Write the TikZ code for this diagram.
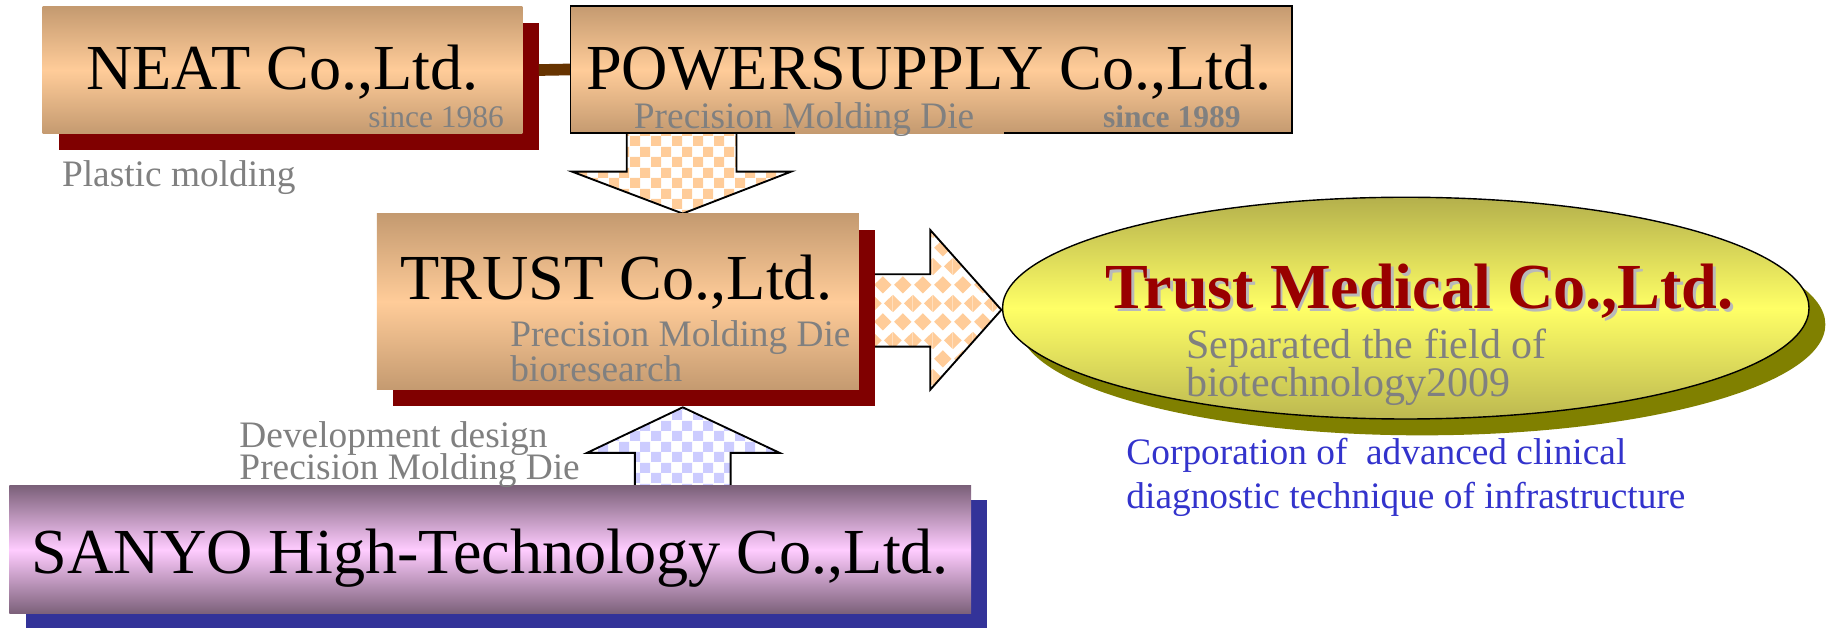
\documentclass[tikz,border=0pt]{standalone}
\usepackage{fontspec}
\setmainfont{Liberation Serif}
\usetikzlibrary{shapes.geometric,shadows,patterns}

\definecolor{tandark}{HTML}{C49A70}
\definecolor{peach}{HTML}{FFCC99}
\definecolor{maroon}{HTML}{800000}
\definecolor{brownline}{HTML}{663300}
\definecolor{plum}{HTML}{7B6079}
\definecolor{pinkish}{HTML}{FFCCFF}
\definecolor{navy}{HTML}{333399}
\definecolor{oliveshadow}{HTML}{808000}
\definecolor{oliveyellow}{HTML}{B4B04C}
\definecolor{lightyellow}{HTML}{FFFF66}
\definecolor{lowyellow}{HTML}{BCB850}
\definecolor{redtext}{HTML}{990000}
\definecolor{bluetext}{HTML}{3333CC}
\definecolor{graytext}{HTML}{808080}
\definecolor{bluecheck}{HTML}{CCCCFF}

% checker and diamond fills of the block arrows
\pgfdeclarepatternformonly{checks}{\pgfpointorigin}{\pgfqpoint{18pt}{18pt}}{\pgfqpoint{18pt}{18pt}}{%
  \pgfpathrectangle{\pgfpointorigin}{\pgfqpoint{9pt}{9pt}}%
  \pgfpathrectangle{\pgfqpoint{9pt}{9pt}}{\pgfqpoint{9pt}{9pt}}%
  \pgfusepath{fill}}
\pgfdeclarepatternformonly{diamonds}{\pgfpointorigin}{\pgfqpoint{17pt}{32pt}}{\pgfqpoint{17pt}{32pt}}{%
  \pgfpathmoveto{\pgfqpoint{8.5pt}{0.5pt}}%
  \pgfpathlineto{\pgfqpoint{16pt}{8pt}}%
  \pgfpathlineto{\pgfqpoint{8.5pt}{15.5pt}}%
  \pgfpathlineto{\pgfqpoint{1pt}{8pt}}%
  \pgfpathclose
  \pgfpathmoveto{\pgfqpoint{0pt}{16.5pt}}%
  \pgfpathlineto{\pgfqpoint{7.5pt}{24pt}}%
  \pgfpathlineto{\pgfqpoint{0pt}{31.5pt}}%
  \pgfpathclose
  \pgfpathmoveto{\pgfqpoint{17pt}{16.5pt}}%
  \pgfpathlineto{\pgfqpoint{9.5pt}{24pt}}%
  \pgfpathlineto{\pgfqpoint{17pt}{31.5pt}}%
  \pgfpathclose
  \pgfusepath{fill}}

\begin{document}
\begin{tikzpicture}[x=1pt, y=-1pt]

\tikzstyle{tanbox} = [rectangle, inner sep=0pt, top color=tandark, bottom color=tandark, middle color=peach]
\tikzstyle{redshadow} = [drop shadow={fill=maroon, opacity=1, shadow xshift=14pt, shadow yshift=-14pt}]
\tikzstyle{title} = [inner sep=0pt, font=\fontsize{55}{60}\selectfont]
\tikzstyle{note} = [inner sep=0pt, text=graytext, font=\fontsize{32}{36}\selectfont]
\tikzstyle{small} = [inner sep=0pt, text=graytext, font=\fontsize{27}{30}\selectfont]
\tikzstyle{blockarrow} = [draw=black, line width=1.6pt, line join=miter]

\useasboundingbox (0,0) rectangle (1568,539);

% block arrows (drawn first, the boxes hide their ends)
\draw[blockarrow, pattern=checks, pattern color=peach]
  (537,108) -- (537,147) -- (490,147) -- (585,183) -- (678,147) -- (631,147) -- (631,108) -- cycle;
\draw[blockarrow, pattern=diamonds, pattern color=peach]
  (744,235) -- (797,235) -- (797,197) -- (858,265.5) -- (797,334) -- (797,297) -- (744,297) -- cycle;
\draw[blockarrow, pattern=checks, pattern color=bluecheck]
  (544,422) -- (544,388) -- (503,388) -- (585,349) -- (668,388) -- (626,388) -- (626,422) -- cycle;

% boxes
\node[tanbox, redshadow, minimum width=411, minimum height=109] (neat) at (242,60) {};
\node[tanbox, minimum width=618, minimum height=109] (power) at (798,59.5) {};
\node[tanbox, redshadow, minimum width=413, minimum height=151] (trust) at (529.5,258.5) {};
\node[rectangle, inner sep=0pt, top color=plum, bottom color=plum, middle color=pinkish,
  drop shadow={fill=navy, opacity=1, shadow xshift=14pt, shadow yshift=-12pt},
  minimum width=824, minimum height=110] (sanyo) at (420,471) {};
\node[ellipse, draw=black, line width=1.2pt, inner sep=0pt, top color=oliveyellow, bottom color=lowyellow, middle color=lightyellow,
  drop shadow={fill=oliveshadow, opacity=1, shadow xshift=14pt, shadow yshift=-14pt},
  minimum width=691, minimum height=190] (medical) at (1204.5,264) {};

\draw[brownline, line width=10pt] ([xshift=14pt]neat.east) -- (power.west);
\draw[line width=1.6pt] (power.south) ++(-117,0) -- (power.south west) |- (power.north east) -- (power.south east) -- ++(-247,0);

% texts
\node[title, anchor=base] (neatname) at (242,77) {NEAT Co.,Ltd.};
\node[small, anchor=base east] (neatyear) at (432,109) {since 1986};
\node[note, anchor=base west] (neatwork) at (53,160) {Plastic molding};

\node[title, anchor=base] (powername) at (796,77) {POWERSUPPLY Co.,Ltd.};
\node[note, anchor=base west] (powerwork) at (543,110) {Precision Molding Die};
\node[small, anchor=base west, font=\fontsize{27}{30}\selectfont\bfseries] (poweryear) at (945,109) {since 1989};

\node[title, anchor=base west] (trustname) at (343,257) {TRUST Co.,Ltd.};
\node[note, anchor=base west] (trustwork) at (437,297) {Precision Molding Die};
\node[note, anchor=base west] (trustbio) at (437,327) {bioresearch};

\node[note, anchor=base west] (sanyowork) at (205,383) {Development design};
\node[note, anchor=base west] (sanyodie) at (205,411) {Precision Molding Die};
\node[title, anchor=base west] (sanyoname) at (27,491) {SANYO High-Technology Co.,Ltd.};

\node[inner sep=0pt, anchor=base west, text=gray!55, font=\fontsize{55}{60}\selectfont\bfseries] (medicalshade) at (949.5,266.5) {Trust Medical Co.,Ltd.};
\node[inner sep=0pt, anchor=base west, text=redtext, font=\fontsize{55}{60}\selectfont\bfseries] (medicalname) at (947,264) {Trust Medical Co.,Ltd.};
\node[inner sep=0pt, anchor=base west, text=graytext, font=\fontsize{36}{40}\selectfont] (medicalsep) at (1016,307) {Separated the field of};
\node[inner sep=0pt, anchor=base west, text=graytext, font=\fontsize{36}{40}\selectfont] (medicalbio) at (1016,340) {biotechnology2009};

\node[inner sep=0pt, anchor=base west, text=bluetext, font=\fontsize{32}{36}\selectfont] (corp) at (965,398) {Corporation of\ \ advanced clinical};
\node[inner sep=0pt, anchor=base west, text=bluetext, font=\fontsize{32}{36}\selectfont] (corpinfra) at (965,436) {diagnostic technique of infrastructure};

\end{tikzpicture}
\end{document}
